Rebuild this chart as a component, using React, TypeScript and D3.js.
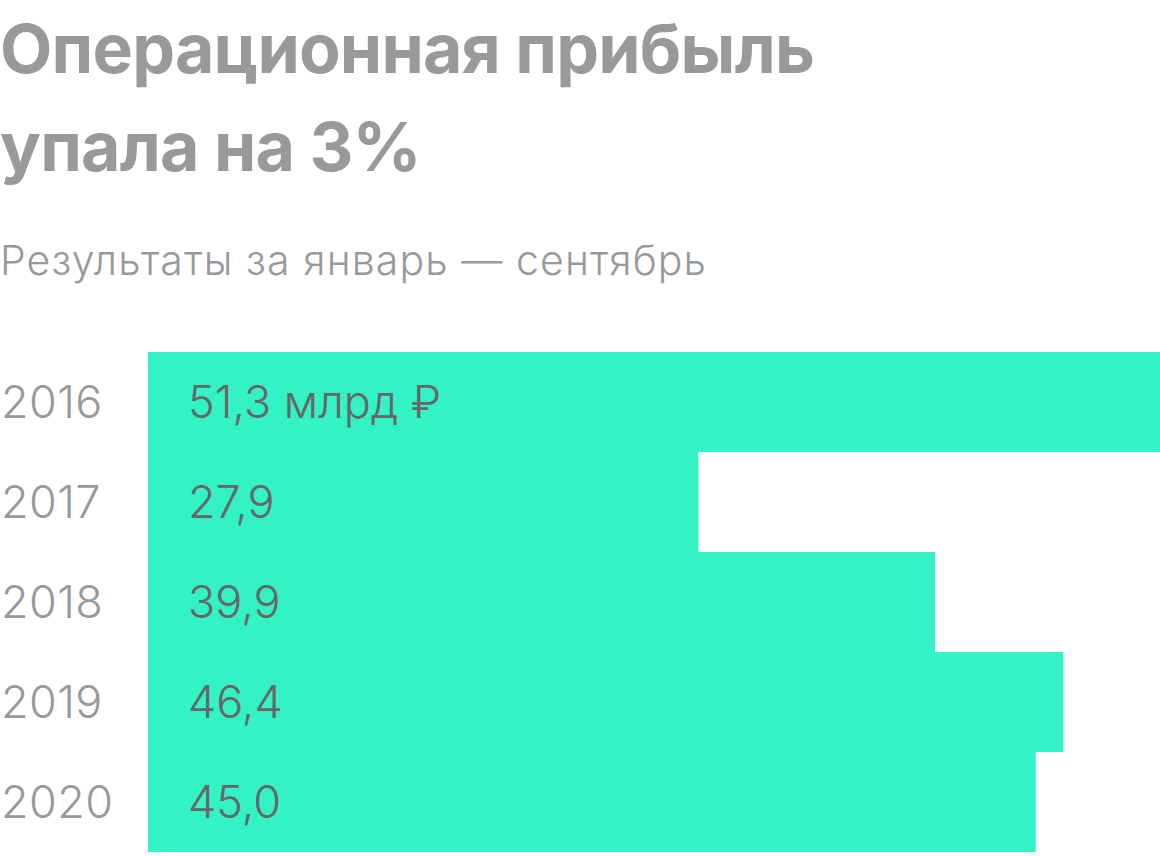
import React from 'react';
import * as d3 from 'd3';

const years = ['2016', '2017', '2018', '2019', '2020'];
const profit = [51.3, 27.9, 39.9, 46.4, 45.0];
const valueLabels = ['51,3 млрд ₽', '27,9', '39,9', '46,4', '45,0'];

const titleLines = ['Операционная прибыль', 'упала на 3%'];
const subtitle = 'Результаты за январь — сентябрь';

const W = 1160;
const H = 856;
const FONT = 'Inter, "Noto Sans", sans-serif';

const App: React.FC = () => {
  const barLeft = 148;
  const x = d3.scaleLinear().domain([0, d3.max(profit) as number]).range([0, W - barLeft]);
  const y = d3.scaleBand<string>().domain(years).range([352, 852]).paddingInner(0);

  return (
    <div style={{ position: 'absolute', left: 0, top: 0, width: W, height: H, background: '#fff' }}>
      <svg width={W} height={H} style={{ display: 'block' }}>
        {titleLines.map((t, i) => (
          <text
            key={t}
            x={0}
            y={73 + i * 98}
            fontFamily={FONT}
            fontWeight={700}
            fontSize={68}
            letterSpacing={-0.8}
            fill="#999999"
          >
            {t}
          </text>
        ))}
        <text x={0} y={275} fontFamily={FONT} fontWeight={330} fontSize={41} letterSpacing={1.1} fill="#999999">
          {subtitle}
        </text>

        {years.map((yr, i) => (
          <g key={yr}>
            <rect
              x={barLeft}
              y={y(yr)}
              width={x(profit[i])}
              height={y.bandwidth()}
              fill="#33F3C4"
            />
            <text
              x={1}
              y={(y(yr) as number) + y.bandwidth() / 2}
              dy="0.35em"
              fontFamily={FONT}
              fontWeight={300}
              fontSize={45}
              letterSpacing={0.4}
              fill="#999999"
            >
              {yr}
            </text>
            <text
              x={barLeft + 40}
              y={(y(yr) as number) + y.bandwidth() / 2}
              dy="0.35em"
              fontFamily={FONT}
              fontWeight={300}
              fontSize={45}
              fill="#666666"
            >
              {valueLabels[i]}
            </text>
          </g>
        ))}
      </svg>
    </div>
  );
};

export default App;
